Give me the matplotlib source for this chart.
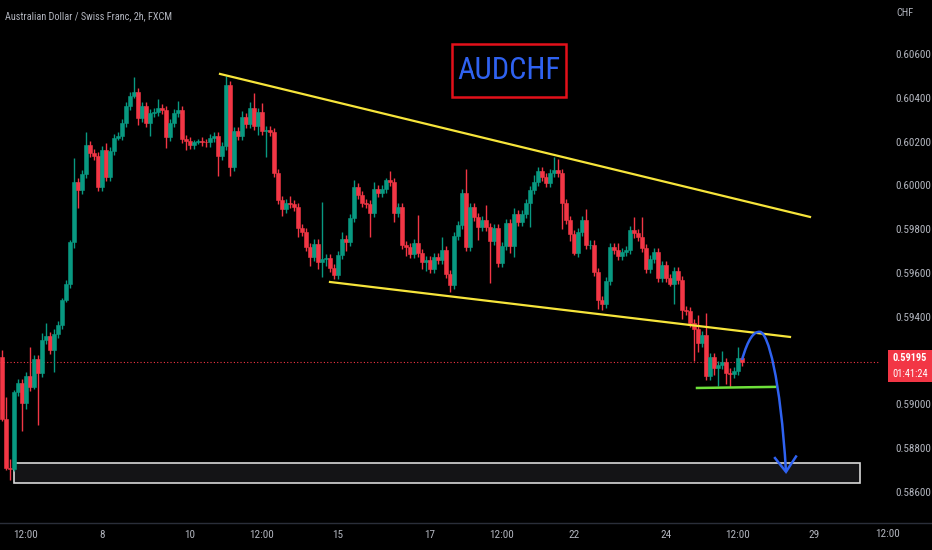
import numpy as np
import matplotlib
matplotlib.use("Agg")
import matplotlib.pyplot as plt
from matplotlib import font_manager
from matplotlib.path import Path
from matplotlib.patches import PathPatch, Rectangle

# AUDCHF 2h candles (close of each bar)
first_open = 0.59217
closes = [
    0.58933, 0.58709, 0.58705, 0.59057, 0.59098, 0.59007, 0.59130, 0.59079, 0.59207, 0.59144,
    0.59294, 0.59312, 0.59249, 0.59323, 0.59363, 0.59477, 0.59550, 0.59742, 0.60016, 0.59979,
    0.60052, 0.60184, 0.60148, 0.60134, 0.59993, 0.60162, 0.60038, 0.60157, 0.60217, 0.60226,
    0.60285, 0.60363, 0.60408, 0.60426, 0.60308, 0.60363, 0.60285, 0.60331, 0.60335, 0.60353,
    0.60344, 0.60221, 0.60285, 0.60331, 0.60344, 0.60212, 0.60203, 0.60184, 0.60198, 0.60203,
    0.60200, 0.60196, 0.60217, 0.60226, 0.60134, 0.60180, 0.60458, 0.60084, 0.60248, 0.60226,
    0.60312, 0.60280, 0.60353, 0.60271, 0.60335, 0.60248, 0.60252, 0.60244, 0.60057, 0.59933,
    0.59892, 0.59920, 0.59915, 0.59901, 0.59806, 0.59787, 0.59719, 0.59673, 0.59733, 0.59650,
    0.59664, 0.59669, 0.59623, 0.59591, 0.59682, 0.59755, 0.59742, 0.59851, 0.59993, 0.59956,
    0.59920, 0.59915, 0.59874, 0.59984, 0.59965, 0.59984, 0.60025, 0.60016, 0.59874, 0.59901,
    0.59728, 0.59719, 0.59687, 0.59737, 0.59691, 0.59650, 0.59659, 0.59618, 0.59673, 0.59659,
    0.59705, 0.59595, 0.59545, 0.59769, 0.59819, 0.59965, 0.59719, 0.59901, 0.59856, 0.59810,
    0.59842, 0.59810, 0.59746, 0.59806, 0.59646, 0.59723, 0.59828, 0.59723, 0.59869, 0.59833,
    0.59869, 0.59920, 0.59979, 0.60016, 0.60066, 0.60038, 0.60011, 0.60057, 0.60070, 0.60057,
    0.59920, 0.59842, 0.59778, 0.59691, 0.59787, 0.59842, 0.59728, 0.59730, 0.59605, 0.59477,
    0.59459, 0.59564, 0.59719, 0.59705, 0.59678, 0.59696, 0.59705, 0.59796, 0.59782, 0.59764,
    0.59714, 0.59618, 0.59664, 0.59696, 0.59577, 0.59637, 0.59577, 0.59550, 0.59609, 0.59568,
    0.59431, 0.59427, 0.59372, 0.59346, 0.59281, 0.59317, 0.59130, 0.59216, 0.59166, 0.59180,
    0.59193, 0.59144, 0.59139, 0.59153, 0.59212, 0.59195,
]
# wick lengths in pips above / below the body
up_wick = [
    3, 10, 4, 1, 2, 2, 2, 13, 2, 2, 3, 6, 2, 2, 2, 1, 2, 1, 11, 2,
    2, 6, 2, 2, 2, 2, 3, 2, 2, 2, 2, 2, 2, 7, 2, 2, 2, 2, 2, 4,
    2, 2, 2, 2, 4, 2, 2, 2, 1, 1, 2, 1, 2, 2, 2, 2, 4, 2, 2, 2,
    3, 2, 3, 7, 2, 4, 2, 2, 2, 2, 2, 2, 3, 2, 2, 2, 2, 2, 2, 2,
    26, 2, 2, 2, 2, 3, 2, 2, 3, 2, 2, 2, 2, 3, 2, 2, 1, 4, 2, 2,
    2, 2, 2, 2, 13, 2, 2, 2, 2, 2, 6, 2, 2, 2, 2, 2, 11, 2, 2, 2,
    2, 7, 2, 2, 2, 2, 2, 2, 3, 2, 2, 2, 2, 3, 2, 2, 2, 2, 6, 5,
    2, 2, 2, 2, 2, 2, 5, 2, 2, 2, 2, 2, 2, 2, 3, 2, 2, 2, 6, 2,
    9, 2, 2, 2, 2, 2, 2, 2, 2, 2, 2, 2, 2, 2, 6, 2, 10, 2, 2, 2,
    5, 2, 2, 2, 5, 1,
]
dn_wick = [
    1, 1, 5, 1, 2, 13, 3, 2, 1, 24, 2, 2, 2, 10, 2, 2, 1, 2, 3, 8,
    2, 2, 2, 2, 2, 2, 2, 2, 2, 1, 2, 2, 2, 1, 3, 2, 2, 6, 2, 2,
    2, 5, 2, 2, 2, 2, 4, 2, 2, 1, 2, 2, 2, 2, 9, 2, 2, 4, 2, 2,
    2, 2, 2, 2, 4, 2, 12, 2, 2, 2, 3, 2, 2, 2, 4, 2, 2, 4, 2, 3,
    7, 3, 2, 2, 2, 2, 4, 2, 2, 2, 2, 2, 11, 2, 2, 2, 2, 2, 4, 2,
    2, 4, 2, 2, 2, 3, 4, 2, 2, 2, 2, 2, 3, 2, 2, 2, 2, 2, 2, 6,
    2, 2, 19, 2, 2, 2, 2, 3, 5, 2, 2, 2, 11, 2, 2, 2, 2, 2, 2, 2,
    12, 2, 3, 1, 2, 2, 2, 2, 2, 4, 3, 2, 2, 2, 2, 2, 2, 2, 2, 2,
    2, 2, 2, 2, 2, 2, 2, 1, 9, 2, 4, 2, 2, 15, 4, 2, 2, 2, 3, 8,
    2, 5, 6, 2, 2, 2,
]

# time axis labels (bar index, text)
tick_idx = [6, 25, 47, 65, 84, 107, 125, 143, 166, 184, 203]
tick_lbl = ["12:00", "8", "10", "12:00", "15", "17", "12:00", "22", "24", "12:00", "29"]
# 0.59200 is hidden behind the last-price tag in the original
price_ticks = [0.586, 0.588, 0.590, 0.594, 0.596, 0.598, 0.600, 0.602, 0.604, 0.606]

# drawings on the chart: (bar index, price)
upper_trend = [(54.5, 0.60509), (202.0, 0.59856)]
lower_trend = [(82.0, 0.59559), (197.0, 0.59308)]
support_line = [(173.75, 0.59075), (193.25, 0.59080)]
target_zone = (3.0, 214.5, 0.58641, 0.58732)
label_box = (112.5, 141.0, 0.60404, 0.60646)

BG = "#000000"
UP = "#089981"
DN = "#f23645"
TXT = "#b2b5be"


def pick_font():
    fl = font_manager.fontManager.ttflist
    names = {f.name for f in fl}
    for nm in ["Liberation Sans Narrow", "Roboto Condensed", "Open Sans Condensed"]:
        if nm in names:
            return nm, "normal", 1.0
    for f in fl:
        if f.name == "DejaVu Sans" and str(f.stretch) in ("condensed", "semi-condensed"):
            return "DejaVu Sans", "condensed", 0.95
    return "Liberation Sans", "normal", 0.88


FAM, STRETCH, SC = pick_font()
FONT = dict(family=[FAM, "DejaVu Sans"], stretch=STRETCH)

opens = np.array([first_open] + closes[:-1])
closes = np.array(closes)
highs = np.maximum(opens, closes) + np.array(up_wick) * 0.0001
lows = np.minimum(opens, closes) - np.array(dn_wick) * 0.0001
idx = np.arange(len(closes))

W, H = 932, 550
fig = plt.figure(figsize=(W / 100, H / 100), dpi=100, facecolor=BG)
ax = fig.add_axes([0, 28 / H, 880 / W, 522 / H], facecolor=BG)
ax.set_xlim(-0.5, 219.5)
ax.set_ylim(0.58463, 0.608466)

colors = np.where(closes >= opens, UP, DN)
ax.vlines(idx, lows, highs, colors=colors, linewidth=1.0, zorder=2)
body_lo = np.minimum(opens, closes)
body_h = np.maximum(np.abs(closes - opens), 0.00002)
ax.bar(idx, body_h, bottom=body_lo, width=0.8, color=colors, edgecolor=colors,
       linewidth=0.4, zorder=3)

# trend lines, support, target zone
ax.plot(*zip(*upper_trend), color="#f7e53b", lw=1.6, zorder=4)
ax.plot(*zip(*lower_trend), color="#f7e53b", lw=1.6, zorder=4)
ax.plot(*zip(*support_line), color="#6ee03a", lw=1.8, zorder=4)
x0, x1, p0, p1 = target_zone
ax.add_patch(Rectangle((x0, p0), x1 - x0, p1 - p0, facecolor="#141416",
                       edgecolor="#d8d8d8", lw=1.2, zorder=1))

# last price line
last = closes[-1]
ax.axhline(last, color=DN, lw=0.8, ls=(0, (1, 2)), zorder=1)

# projected path arrow
verts = [(185.0, 0.59203), (186.5, 0.59300), (188.0, 0.59335), (189.5, 0.59331),
         (191.5, 0.59328), (194.6, 0.59120), (196.0, 0.58692)]
codes = [Path.MOVETO] + [Path.CURVE4] * 6
ax.add_patch(PathPatch(Path(verts, codes), fill=False, edgecolor="#2f62f0", lw=1.8, zorder=5))
ax.plot([193.25, 196.0, 198.5], [0.58755, 0.58692, 0.58762], color="#2f62f0", lw=1.8,
        zorder=5, solid_joinstyle="miter")

# AUDCHF title box
bx0, bx1, bp0, bp1 = label_box
ax.add_patch(Rectangle((bx0, bp0), bx1 - bx0, bp1 - bp0, facecolor=BG,
                       edgecolor="#e3101a", lw=1.8, zorder=6))
ax.text((bx0 + bx1) / 2, (bp0 + bp1) / 2, "AUDCHF", color="#2f62f0", fontsize=22 * SC,
        ha="center", va="center", zorder=7, **FONT)

# axes styling
for s in ["top", "left", "right", "bottom"]:
    ax.spines[s].set_visible(False)
ax.set_xticks(tick_idx)
ax.set_xticklabels(tick_lbl)
ax.set_yticks(price_ticks)
ax.set_yticklabels([f"{p:.5f}" for p in price_ticks])
ax.yaxis.tick_right()
ax.tick_params(axis="y", length=0, pad=11, labelsize=8 * SC, labelcolor=TXT)
ax.tick_params(axis="x", length=0, pad=6, labelsize=8 * SC, labelcolor=TXT)
for lbl in ax.get_xticklabels() + ax.get_yticklabels():
    lbl.set_family([FAM, "DejaVu Sans"])
    lbl.set_stretch(STRETCH)
ax.grid(False)

fig.add_artist(plt.Line2D([0, 1], [1 - 523 / H, 1 - 523 / H], color="#2a2e39", lw=1.0))
fig.text(888 / W, 1 - 534 / H, "12:00", color=TXT, fontsize=8 * SC, ha="center",
         va="center", **FONT)
fig.text(5 / W, 1 - 16 / H, "Australian Dollar / Swiss Franc, 2h, FXCM", color=TXT,
         fontsize=7.4 * SC, ha="left", va="center", **FONT)
fig.text(905 / W, 1 - 13 / H, "CHF", color=TXT, fontsize=7.5 * SC, ha="center",
         va="center", **FONT)

# price tag
fig.add_artist(Rectangle((888 / W, 1 - 382 / H), 44 / W, 32 / H, transform=fig.transFigure,
                         facecolor=DN, edgecolor="none"))
fig.text(910 / W, 1 - 358 / H, f"{last:.5f}", color="white", fontsize=7.5 * SC,
         fontweight="bold", ha="center", va="center", **FONT)
fig.text(910 / W, 1 - 374 / H, "01:41:24", color="white", fontsize=7.5 * SC, ha="center",
         va="center", **FONT)

fig.savefig("out.png", dpi=100, facecolor=BG)
